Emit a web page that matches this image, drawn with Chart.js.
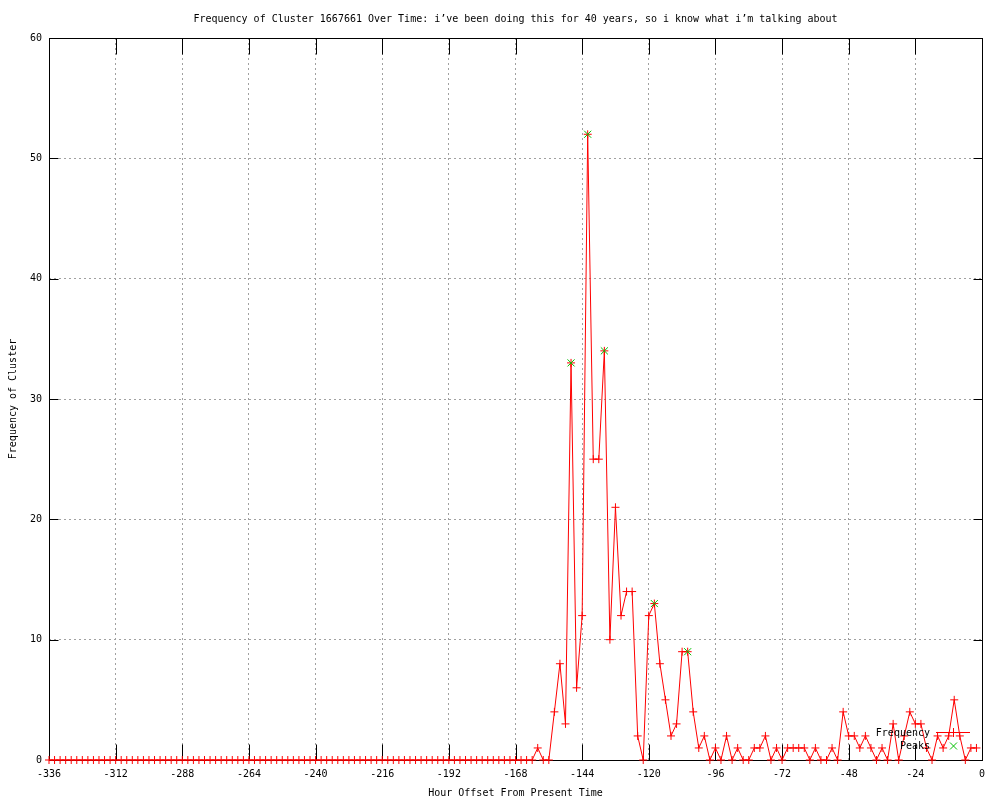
<!DOCTYPE html>
<html lang="en">
<head>
<meta charset="UTF-8">
<title>Frequency of Cluster 1667661 Over Time</title>
<script src="https://cdn.jsdelivr.net/npm/chart.js@4.4.0/dist/chart.umd.min.js"></script>
<style>
    body {
        margin: 0;
        background: #fff;
    }
    .chart-box {
        position: relative;
        width: 1000px;
        height: 800px;
    }
</style>
</head>
<body>
<div class="chart-box">
    <canvas id="clusterChart"></canvas>
</div>

<script>
    // hour offsets: one sample every 2 hours, starting at -336
    const hourStart = -336;
    const hourStep = 2;

    // cluster frequency per sample (-336 ... -2)
    const frequency = [
        0, 0, 0, 0, 0, 0, 0, 0, 0, 0, 0,
        0, 0, 0, 0, 0, 0, 0, 0, 0, 0, 0,
        0, 0, 0, 0, 0, 0, 0, 0, 0, 0, 0,
        0, 0, 0, 0, 0, 0, 0, 0, 0, 0, 0,
        0, 0, 0, 0, 0, 0, 0, 0, 0, 0, 0,
        0, 0, 0, 0, 0, 0, 0, 0, 0, 0, 0,
        0, 0, 0, 0, 0, 0, 0, 0, 0, 0, 0,
        0, 0, 0, 0, 0, 0, 0, 0, 0, 0, 0,
        1, 0, 0, 4, 8, 3, 33, 6, 12, 52,
        25, 25, 34, 10, 21, 12, 14, 14, 2, 0,
        12, 13, 8, 5, 2, 3, 9, 9, 4, 1,
        2, 0, 1, 0, 2, 0, 1, 0, 0, 1,
        1, 2, 0, 1, 0, 1, 1, 1, 1, 0,
        1, 0, 0, 1, 0, 4, 2, 2, 1, 2,
        1, 0, 1, 0, 3, 0, 2, 4, 3, 3,
        1, 0, 2, 1, 2, 5, 2, 0, 1, 1
    ];

    // detected peaks
    const peakHours = [-148, -142, -136, -118, -106];
    const peakValues = [33, 52, 34, 13, 9];

    const xTickValues = [-336, -312, -288, -264, -240, -216, -192, -168, -144, -120, -96, -72, -48, -24, 0];
    const yTickValues = [0, 10, 20, 30, 40, 50, 60];

    const titleText = 'Frequency of Cluster 1667661 Over Time: i\u2019ve been doing this for 40 years, so i know what i\u2019m talking about';

    const hours = frequency.map((v, i) => hourStart + i * hourStep);
    const freqPoints = frequency.map((v, i) => ({ x: hours[i], y: v }));
    const peakPoints = peakValues.map((v, i) => ({ x: peakHours[i], y: v }));

    const monoFont = { family: '"DejaVu Sans Mono", monospace', size: 10 };
    const fontStr = '10px "DejaVu Sans Mono", monospace';

    // border box, inward ticks, key and title in gnuplot style
    const gnuplotFrame = {
        id: 'gnuplotFrame',
        beforeDatasetsDraw(chart) {
            const { ctx, chartArea: a, scales } = chart;
            const l = Math.round(a.left) + 0.5, r = Math.round(a.right) + 0.5;
            const t = Math.round(a.top) + 0.5, b = Math.round(a.bottom) + 0.5;
            ctx.save();
            ctx.strokeStyle = '#000';
            ctx.lineWidth = 1;
            ctx.beginPath();
            xTickValues.forEach(v => {
                const x = Math.round(scales.x.getPixelForValue(v)) + 0.5;
                ctx.moveTo(x, b); ctx.lineTo(x, b - 16);
                ctx.moveTo(x, t); ctx.lineTo(x, t + 16);
            });
            yTickValues.forEach(v => {
                const y = Math.round(scales.y.getPixelForValue(v)) + 0.5;
                ctx.moveTo(l, y); ctx.lineTo(l + 9, y);
                ctx.moveTo(r, y); ctx.lineTo(r - 9, y);
            });
            ctx.stroke();
            ctx.strokeRect(l, t, r - l, b - t);
            ctx.restore();
        },
        afterDatasetsDraw(chart) {
            const { ctx, chartArea: a } = chart;
            const r = Math.round(a.right), b = Math.round(a.bottom);
            ctx.save();
            ctx.font = fontStr;
            ctx.fillStyle = '#000';
            ctx.textAlign = 'right';
            ctx.textBaseline = 'middle';
            ctx.fillText('Frequency', r - 52, b - 27);
            ctx.fillText('Peaks', r - 52, b - 14);

            ctx.lineWidth = 1;
            ctx.strokeStyle = '#ff0000';
            ctx.beginPath();
            ctx.moveTo(r - 46, b - 27.5); ctx.lineTo(r - 12, b - 27.5);
            ctx.moveTo(r - 28.5, b - 32); ctx.lineTo(r - 28.5, b - 23);
            ctx.stroke();

            ctx.strokeStyle = '#00c000';
            ctx.beginPath();
            ctx.moveTo(r - 32, b - 17.5); ctx.lineTo(r - 25, b - 10.5);
            ctx.moveTo(r - 32, b - 10.5); ctx.lineTo(r - 25, b - 17.5);
            ctx.stroke();
            ctx.restore();
        },
        afterDraw(chart) {
            const { ctx, chartArea: a } = chart;
            ctx.save();
            ctx.font = fontStr;
            ctx.fillStyle = '#000';
            ctx.textAlign = 'center';
            ctx.textBaseline = 'middle';
            ctx.fillText(titleText, (a.left + a.right) / 2, 19);
            ctx.restore();
        }
    };

    const clusterChart = new Chart(
        document.getElementById('clusterChart'),
        {
            type: 'scatter',
            data: {
                datasets: [
                    {
                        label: 'Peaks',
                        data: peakPoints,
                        showLine: false,
                        pointStyle: 'crossRot',
                        pointRadius: 5,
                        pointBorderWidth: 1,
                        borderColor: '#00c000',
                        backgroundColor: '#00c000',
                        clip: 10,
                        order: 0
                    },
                    {
                        label: 'Frequency',
                        data: freqPoints,
                        showLine: true,
                        borderColor: '#ff0000',
                        backgroundColor: '#ff0000',
                        borderWidth: 1,
                        tension: 0,
                        pointStyle: 'cross',
                        pointRadius: 4,
                        pointBorderWidth: 1,
                        clip: 10,
                        order: 1
                    }
                ]
            },
            options: {
                responsive: true,
                maintainAspectRatio: false,
                animation: false,
                layout: {
                    padding: { top: 38, right: 18, left: 0, bottom: 0 }
                },
                plugins: {
                    legend: { display: false },
                    title: { display: false },
                    tooltip: { enabled: false }
                },
                scales: {
                    x: {
                        type: 'linear',
                        min: -336,
                        max: 0,
                        afterBuildTicks: s => { s.ticks = xTickValues.map(v => ({ value: v })); },
                        afterFit: s => { s.height = 40; },
                        ticks: {
                            color: '#000',
                            font: monoFont,
                            padding: 8,
                            maxRotation: 0,
                            autoSkip: false,
                            callback: v => String(v)
                        },
                        grid: { color: '#a0a0a0', lineWidth: 1, drawTicks: false },
                        border: { display: false, dash: [2, 3] },
                        title: {
                            display: true,
                            text: 'Hour Offset From Present Time',
                            color: '#000',
                            font: monoFont,
                            padding: { top: 0, bottom: 1 }
                        }
                    },
                    y: {
                        type: 'linear',
                        min: 0,
                        max: 60,
                        afterBuildTicks: s => { s.ticks = yTickValues.map(v => ({ value: v })); },
                        afterFit: s => { s.width = 49; },
                        ticks: {
                            color: '#000',
                            font: monoFont,
                            padding: 7,
                            callback: v => String(v)
                        },
                        grid: { color: '#a0a0a0', lineWidth: 1, drawTicks: false },
                        border: { display: false, dash: [2, 3] },
                        title: {
                            display: true,
                            text: 'Frequency of Cluster',
                            color: '#000',
                            font: monoFont,
                            padding: { top: 7, bottom: 0 }
                        }
                    }
                }
            },
            plugins: [gnuplotFrame]
        }
    );
</script>
</body>
</html>
